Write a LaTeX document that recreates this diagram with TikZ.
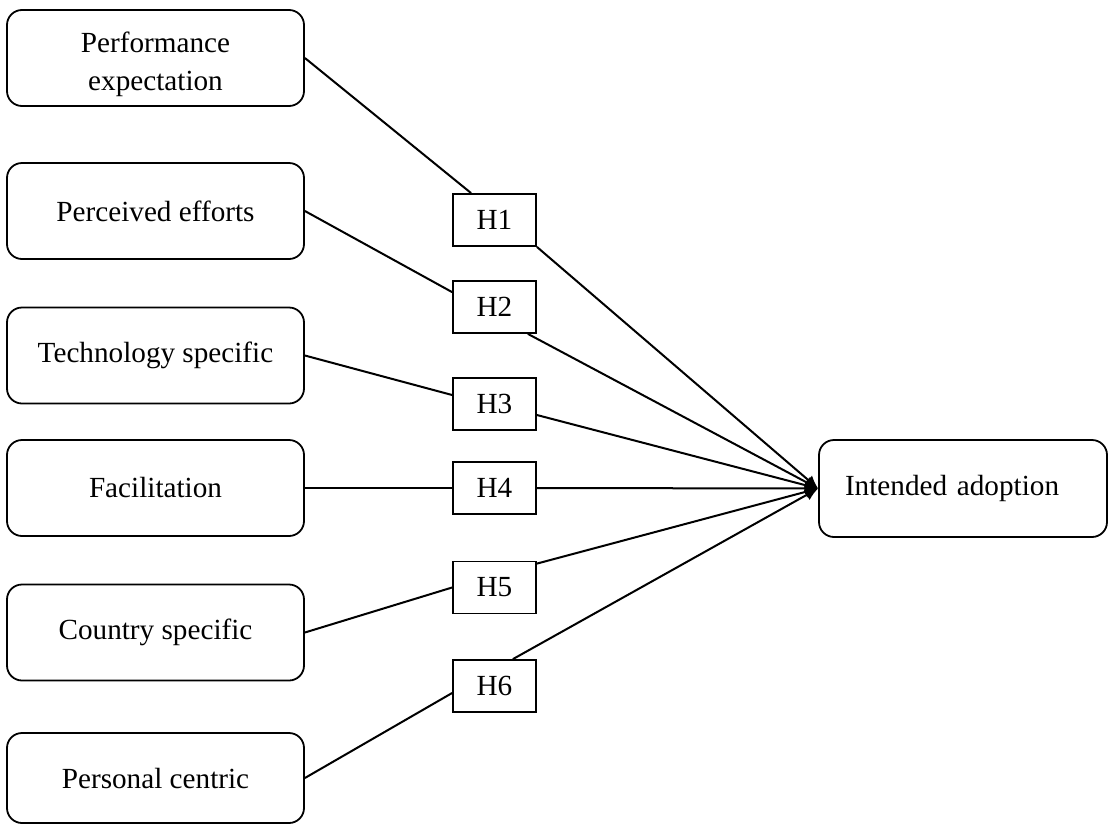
\documentclass[tikz,border=0pt]{standalone}
\usepackage{fontspec}
\setmainfont{Liberation Serif}
\usetikzlibrary{arrows.meta,calc}
\tikzset{
  factor/.style={draw, line width=0.9pt, rounded corners=7.5pt, minimum width=148.5pt, minimum height=48pt, align=center, inner sep=0pt, font=\fontsize{14.6pt}{18.5pt}\selectfont},
  hyp/.style={draw, line width=0.9pt, minimum width=41.5pt, minimum height=26pt, inner sep=0pt, font=\fontsize{14.6pt}{18.5pt}\selectfont},
  outcome/.style={draw, line width=0.9pt, rounded corners=7.5pt, text width=118pt, inner xsep=13pt, minimum height=48.5pt, align=left, font=\fontsize{14.6pt}{18.5pt}\selectfont},
  link/.style={line width=1pt},
  arr/.style={line width=1pt, -{Latex[length=6.5pt,width=6pt]}}
}
\begin{document}
\begin{tikzpicture}[x=0.5pt,y=-0.5pt]
\useasboundingbox (0,0) rectangle (1108,825);
% factors
\node[factor] (b1) at (155.5,58) {\raisebox{-3pt}[\height][\depth]{\begin{tabular}{@{}c@{}}Performance\\[0.3pt]expectation\end{tabular}}};
\node[factor] (b2) at (155.5,211) {Perceived efforts};
\node[factor] (b3) at (155.5,355.5) {Technology specific};
\node[factor] (b4) at (155.5,488) {Facilitation};
\node[factor] (b5) at (155.5,632.5) {Country specific};
\node[factor, minimum height=45pt] (b6) at (155.5,778) {Personal centric};
% hypotheses
\node[hyp] (h1) at (494.5,220) {H1};
\node[hyp] (h2) at (494.5,307) {H2};
\node[hyp] (h3) at (494.5,404) {H3};
\node[hyp] (h4) at (494.5,488) {H4};
\node[hyp] (h5) at (494.5,587.5) {H5};
\node[hyp] (h6) at (494.5,686) {H6};
% outcome
\node[outcome] (ia) at (963,488.5) {Intended adoption};
% links
\draw[link] (b1.east) -- ([xshift=9.5pt]h1.north west);
\draw[arr] (h1.south east) -- (ia.west);
\draw[link] (b2.east) -- ([yshift=-6pt]h2.north west);
\draw[arr] ([xshift=-4.5pt]h2.south east) -- (ia.west);
\draw[link] (b3.east) -- ([yshift=4.5pt]h3.west);
\draw[arr] ([yshift=-5.5pt]h3.east) -- (ia.west);
\draw[link] (b4.east) -- (h4.west);
\draw[arr] (h4.east) -- (ia.west);
\draw[link] (b5.east) -- (h5.west);
\draw[arr] ([yshift=-1.5pt]h5.north east) -- (ia.west);
\draw[link] (b6.east) -- ([yshift=-3.5pt]h6.west);
\draw[arr] ([xshift=-12pt]h6.north east) -- (ia.west);
\end{tikzpicture}
\end{document}
